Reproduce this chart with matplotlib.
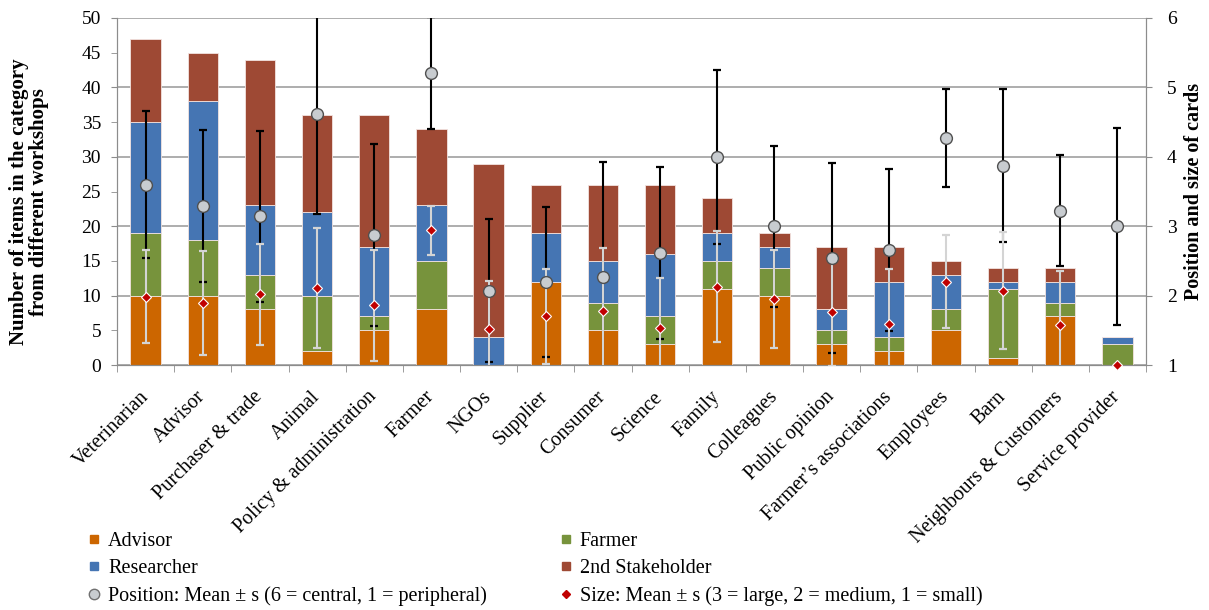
import matplotlib.pyplot as plt
from matplotlib.lines import Line2D
from matplotlib.ticker import FixedLocator, MultipleLocator
import numpy as np

plt.rcParams["font.family"] = ["Liberation Serif", "DejaVu Serif"]

# Categories and stacked counts per group
categories = [
    "Veterinarian", "Advisor", "Purchaser & trade", "Animal",
    "Policy & administration", "Farmer", "NGOs", "Supplier", "Consumer",
    "Science", "Family", "Colleagues", "Public opinion",
    "Farmer\u2019s associations", "Employees", "Barn",
    "Neighbours & Customers", "Service provider",
]
advisor = [10, 10, 8, 2, 5, 8, 0, 12, 5, 3, 11, 10, 3, 2, 5, 1, 7, 0]
farmer = [9, 8, 5, 8, 2, 7, 0, 0, 4, 4, 4, 4, 2, 2, 3, 10, 2, 3]
researcher = [16, 20, 10, 12, 10, 8, 4, 7, 6, 9, 4, 3, 3, 8, 5, 1, 3, 1]
stakeholder = [12, 7, 21, 14, 19, 11, 25, 7, 11, 10, 5, 2, 9, 5, 2, 2, 2, 0]

# Position of cards (6 = central, 1 = peripheral)
pos_mean = [3.60, 3.29, 3.14, 4.61, 2.87, 5.21, 2.07, 2.20, 2.27, 2.62,
            4.00, 3.00, 2.54, 2.66, 4.27, 3.87, 3.22, 3.00]
pos_sd = [1.06, 1.10, 1.23, 1.44, 1.31, 0.81, 1.03, 1.08, 1.66, 1.24,
          1.25, 1.16, 1.37, 1.17, 0.70, 1.10, 0.80, 1.42]

# Size of cards (3 = large, 1 = small)
size_mean = [1.98, 1.89, 2.02, 2.11, 1.86, 2.94, 1.52, 1.70, 1.78, 1.54,
             2.13, 1.95, 1.77, 1.59, 2.20, 2.07, 1.58, 1.00]
size_sd = [0.67, 0.75, 0.73, 0.86, 0.80, 0.35, 0.69, 0.69, 0.90, 0.71,
           0.80, 0.71, 0.78, 0.80, 0.67, 0.84, 0.77, 0.00]

groups = [
    ("Advisor", advisor, "#CC6600"),
    ("Farmer", farmer, "#77933C"),
    ("Researcher", researcher, "#4575B3"),
    ("2nd Stakeholder", stakeholder, "#9E4934"),
]
grid_col = "#A0A0A0"
spine_col = "#8C8C8C"

fig = plt.figure(figsize=(12.09, 6.10), dpi=100)
ax = fig.add_axes([117 / 1209, 1 - 365 / 610, 1029 / 1209, 347 / 610])
ax2 = ax.twinx()

x = np.arange(len(categories))
bottom = np.zeros(len(categories))
for name, vals, col in groups:
    ax.bar(x, vals, 0.53, bottom=bottom, color=col, edgecolor="#F3E3E0",
           linewidth=0.6, zorder=2)
    bottom += np.array(vals)

# left axis
ax.set_xlim(-0.5, len(categories) - 0.5)
ax.set_ylim(0, 50)
ax.yaxis.set_major_locator(MultipleLocator(10))
ax.yaxis.set_minor_locator(FixedLocator([5, 15, 25, 35, 45]))
ax.yaxis.set_minor_formatter("{x:.0f}")
ax.grid(axis="y", which="major", color=grid_col, linewidth=1.2, zorder=0)
ax.set_axisbelow(True)
ax.tick_params(axis="y", which="both", labelsize=14, length=4.5,
               color=spine_col, pad=7)
ax.set_xticks(x)
ax.set_xticklabels(categories, rotation=45, ha="right", va="center",
                   rotation_mode="anchor", fontsize=14.5)
ax.set_xticks(np.arange(-0.5, len(categories)), minor=True)
ax.tick_params(axis="x", which="major", length=0, pad=21)
ax.tick_params(axis="x", which="minor", length=5, color=spine_col)
for s in ax.spines.values():
    s.set_color(spine_col)
ax.spines["top"].set_visible(False)
ax.set_ylabel("Number of items in the category\nfrom different workshops",
              fontsize=15, fontweight="bold", linespacing=1.0)
ax.yaxis.set_label_coords(-0.066, 0.47)

# right axis: position and size
ax2.set_ylim(1, 6)
ax2.set_yticks([1, 2, 3, 4, 5, 6])
ax2.tick_params(axis="y", labelsize=14, length=4, color=spine_col, pad=11)
for s in ax2.spines.values():
    s.set_color(spine_col)
ax2.spines["top"].set_visible(False)
ax2.set_ylabel("Position and size of cards", fontsize=14.5,
               fontweight="bold", labelpad=5)

ax2.errorbar(x, pos_mean, yerr=pos_sd, fmt="none", ecolor="black",
             elinewidth=1.5, capsize=3, capthick=1.6, zorder=3)
ax2.errorbar(x, size_mean, yerr=size_sd, fmt="none", ecolor="#D4D4D4",
             elinewidth=1.5, capsize=3, capthick=1.6, zorder=4)
ax2.plot(x, pos_mean, "o", markersize=8.5, markerfacecolor="#C8CCD0",
         markeredgecolor="#505050", markeredgewidth=1, zorder=5)
ax2.plot(x, size_mean, "D", markersize=5.5, markerfacecolor="#C00000",
         markeredgecolor="white", markeredgewidth=0.8, zorder=6,
         clip_on=False)

# legend
def sq(col):
    return Line2D([], [], marker="s", linestyle="none", markersize=5.5,
                  markerfacecolor=col, markeredgecolor=col)


handles = [
    sq(groups[0][2]), sq(groups[2][2]),
    Line2D([], [], marker="o", linestyle="none", markersize=7.5,
           markerfacecolor="#C8CCD0", markeredgecolor="#707070"),
    sq(groups[1][2]), sq(groups[3][2]),
    Line2D([], [], marker="D", linestyle="none", markersize=4.5,
           markerfacecolor="#C00000", markeredgecolor="#C00000"),
]
labels = [
    "Advisor", "Researcher",
    "Position: Mean \u00b1 s (6 = central, 1 = peripheral)",
    "Farmer", "2nd Stakeholder",
    "Size: Mean \u00b1 s (3 = large, 2 = medium, 1 = small)",
]
fig.legend(handles, labels, ncol=2, loc="upper left",
           bbox_to_anchor=(88 / 1209, 1 - 532 / 610), frameon=False,
           fontsize=14.5, handlelength=0.6, handletextpad=0.4,
           columnspacing=3.6, labelspacing=0.4, borderpad=0,
           borderaxespad=0)

fig.savefig("out.png", dpi=100)
